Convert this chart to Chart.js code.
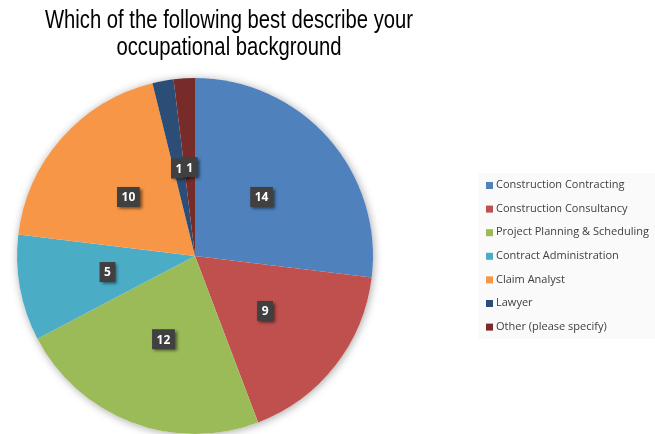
<!DOCTYPE html>
<html>
<head>
<meta charset="utf-8">
<script src="https://cdn.jsdelivr.net/npm/chart.js@4.4.1/dist/chart.umd.min.js"></script>
<style>
  html, body { margin: 0; padding: 0; background: #fff; }
  #wrap { position: relative; width: 655px; height: 434px; }
</style>
</head>
<body>
<div id="wrap"><canvas id="occChart" width="655" height="434"></canvas></div>
<script>
// survey answers
const titleLines = ['Which of the following best describe your', 'occupational background'];
const categories = [
    'Construction Contracting',
    'Construction Consultancy',
    'Project Planning & Scheduling',
    'Contract Administration',
    'Claim Analyst',
    'Lawyer',
    'Other (please specify)'
];
const responses = [14, 9, 12, 5, 10, 1, 1];
const sliceColors = ['#4f81bd', '#c0504d', '#9bbb59', '#4bacc6', '#f79646', '#2c4d75', '#772c2a'];

// soft shadow under the whole pie
const pieShadow = {
    id: 'pieShadow',
    beforeDatasetsDraw(chart) {
        const arc = chart.getDatasetMeta(0).data[0];
        if (!arc) return;
        const ctx = chart.ctx;
        ctx.save();
        ctx.shadowColor = 'rgba(0,0,0,0.35)';
        ctx.shadowBlur = 8;
        ctx.shadowOffsetX = 1;
        ctx.shadowOffsetY = 1;
        ctx.fillStyle = '#ffffff';
        ctx.beginPath();
        ctx.arc(arc.x, arc.y, arc.outerRadius, 0, Math.PI * 2);
        ctx.fill();
        ctx.restore();
    }
};

// dark value boxes in the middle of each slice
const valueBoxes = {
    id: 'valueBoxes',
    afterDatasetsDraw(chart) {
        const ctx = chart.ctx;
        const values = chart.data.datasets[0].data;
        ctx.save();
        ctx.font = 'bold 12px "Noto Sans", "Open Sans", sans-serif';
        ctx.textAlign = 'center';
        ctx.textBaseline = 'middle';
        chart.getDatasetMeta(0).data.forEach((arc, i) => {
            const pos = arc.tooltipPosition();
            const txt = String(values[i]);
            const w = ctx.measureText(txt).width + 9;
            const h = 20;
            ctx.save();
            ctx.shadowColor = 'rgba(0,0,0,0.55)';
            ctx.shadowBlur = 3;
            ctx.shadowOffsetX = 2;
            ctx.shadowOffsetY = 2;
            ctx.fillStyle = '#404040';
            ctx.fillRect(pos.x - w / 2, pos.y - h / 2, w, h);
            ctx.restore();
            ctx.fillStyle = '#ffffff';
            ctx.fillText(txt, pos.x, pos.y + 1);
        });
        ctx.restore();
    }
};

// title (condensed) and legend panel
const sideText = {
    id: 'sideText',
    afterDraw(chart) {
        const ctx = chart.ctx;
        ctx.save();
        ctx.fillStyle = '#000000';
        ctx.font = '25px "Liberation Sans", Arial, sans-serif';
        ctx.textAlign = 'center';
        ctx.textBaseline = 'alphabetic';
        const squeeze = 0.81;
        titleLines.forEach((line, i) => {
            ctx.save();
            ctx.translate(229, 28 + i * 27);
            ctx.scale(squeeze, 1);
            ctx.fillText(line, 0, 0);
            ctx.restore();
        });

        ctx.fillStyle = '#fafafa';
        ctx.fillRect(478, 173, 177, 166);
        ctx.font = '11px "Open Sans", sans-serif';
        ctx.textAlign = 'left';
        ctx.textBaseline = 'middle';
        chart.data.labels.forEach((label, i) => {
            const y = 185 + i * 23.6;
            ctx.fillStyle = chart.data.datasets[0].backgroundColor[i];
            ctx.fillRect(486, y - 3, 7, 7);
            ctx.fillStyle = '#404040';
            ctx.fillText(label, 496, y);
        });
        ctx.restore();
    }
};

new Chart(document.getElementById('occChart'), {
    type: 'pie',
    data: {
        labels: categories,
        datasets: [{
            data: responses,
            backgroundColor: sliceColors,
            borderWidth: 0,
            hoverOffset: 0
        }]
    },
    options: {
        responsive: false,
        animation: false,
        events: [],
        layout: { padding: { left: 17, right: 282, top: 78, bottom: 0 } },
        plugins: {
            legend: { display: false },
            title: { display: false },
            tooltip: { enabled: false }
        }
    },
    plugins: [pieShadow, valueBoxes, sideText]
});
</script>
</body>
</html>
